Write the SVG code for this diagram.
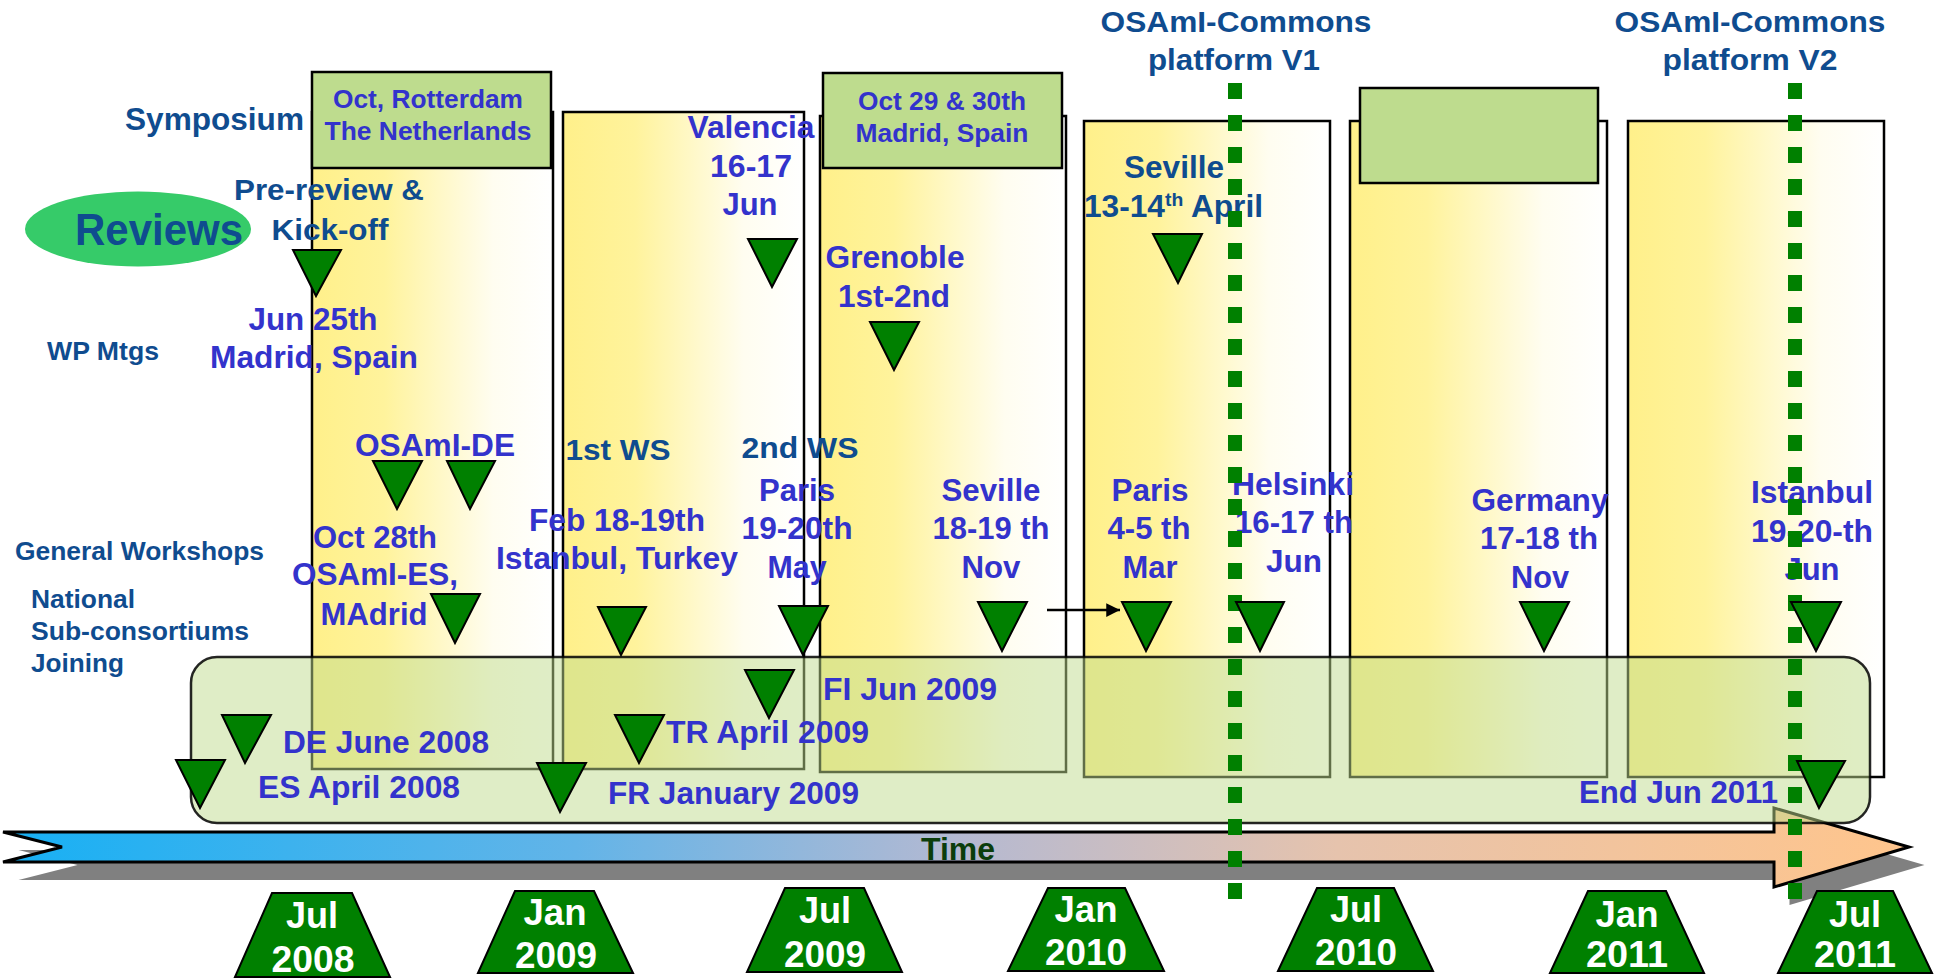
<svg xmlns="http://www.w3.org/2000/svg" width="1936" height="980" viewBox="0 0 1936 980">
<defs>
<linearGradient id="colg" x1="0" y1="0" x2="1" y2="0">
<stop offset="0" stop-color="#fff08a"/>
<stop offset="0.3" stop-color="#fff39c"/>
<stop offset="0.75" stop-color="#fffdf0"/>
<stop offset="1" stop-color="#ffffff"/>
</linearGradient>
<linearGradient id="timeg" x1="0" y1="0" x2="1" y2="0">
<stop offset="0" stop-color="#17b0f4"/>
<stop offset="0.3" stop-color="#62b4e8"/>
<stop offset="0.5" stop-color="#b4b9d2"/>
<stop offset="0.7" stop-color="#e6c3ad"/>
<stop offset="1" stop-color="#ffc58c"/>
</linearGradient>
<marker id="ah" viewBox="0 0 10 10" refX="10" refY="5" markerWidth="6" markerHeight="5.5" markerUnits="strokeWidth" orient="auto">
<path d="M0,0 L10,5 L0,10 z" fill="#000"/>
</marker>
<style>
text{font-family:"Liberation Sans",Arial,sans-serif;font-weight:bold}
.col{fill:url(#colg);stroke:#000;stroke-width:2.5}
.sym{fill:#bedc8e;stroke:#000;stroke-width:2.5}
.tri{fill:#008000;stroke:#000;stroke-width:2}
.trap{fill:#008000;stroke:#000;stroke-width:2}
.cat{fill:#0f4c8f}
.ev{fill:#3333cc}
.c{text-anchor:middle}
.d{fill:#fff;font-size:36px;text-anchor:middle}
.dot{stroke:#008000;stroke-width:14;stroke-dasharray:16 16;fill:none}
</style>
</defs>

<g id="columns">
<g id="col1"><rect class="col" x="312" y="112" width="241" height="657"/></g>
<g id="col2"><rect class="col" x="563" y="112" width="241" height="657"/></g>
<g id="col3"><rect class="col" x="820" y="116" width="246" height="656"/></g>
<g id="col4"><rect class="col" x="1084" y="121" width="246" height="656"/></g>
<g id="col5"><rect class="col" x="1350" y="121" width="257" height="656"/></g>
<g id="col6"><rect class="col" x="1628" y="121" width="256" height="656"/></g>
</g>

<g id="symposium1"><rect class="sym" x="312" y="72" width="239" height="96"/>
<text class="ev c" x="428" y="108" font-size="26" textLength="190" lengthAdjust="spacingAndGlyphs">Oct, Rotterdam</text>
<text class="ev c" x="428" y="140" font-size="26" textLength="207" lengthAdjust="spacingAndGlyphs">The Netherlands</text></g>
<g id="symposium2"><rect class="sym" x="823" y="73" width="239" height="95"/>
<text class="ev c" x="942" y="110" font-size="26" textLength="168" lengthAdjust="spacingAndGlyphs">Oct 29 &amp; 30th</text>
<text class="ev c" x="942" y="142" font-size="26" textLength="173" lengthAdjust="spacingAndGlyphs">Madrid, Spain</text></g>
<g id="symposium3"><rect class="sym" x="1360" y="88" width="238" height="95"/></g>

<g id="timearrow">
<polygon points="18.5,850 1789.5,850 1789.5,826 1924.5,865 1789.5,905 1789.5,880 18.5,880 77.5,865" fill="#808080"/>
<polygon points="3,832 1774,832 1774,808 1909,847 1774,887 1774,862 3,862 62,847" fill="url(#timeg)" stroke="#000" stroke-width="3" stroke-linejoin="miter"/>
<text x="921" y="860" font-size="31" fill="#0b3d0b" textLength="74" lengthAdjust="spacingAndGlyphs">Time</text>
</g>

<g id="joining"><rect x="191" y="657" width="1679" height="166" rx="26" ry="26" fill="#bfdc8e" fill-opacity="0.5" stroke="#000" stroke-opacity="0.85" stroke-width="2.5"/></g>

<g id="labels">
<text class="cat" x="125" y="130" font-size="31" textLength="179" lengthAdjust="spacingAndGlyphs">Symposium</text>
<g id="reviews"><ellipse cx="138" cy="229" rx="113" ry="37.5" fill="#36cb69"/>
<text class="cat" x="75" y="245" font-size="44" textLength="168" lengthAdjust="spacingAndGlyphs">Reviews</text></g>
<text class="cat" x="47" y="360" font-size="25" textLength="112" lengthAdjust="spacingAndGlyphs">WP Mtgs</text>
<text class="cat" x="15" y="560" font-size="25" textLength="249" lengthAdjust="spacingAndGlyphs">General Workshops</text>
<text class="cat" x="31" y="608" font-size="25" textLength="104" lengthAdjust="spacingAndGlyphs">National</text>
<text class="cat" x="31" y="640" font-size="25" textLength="218" lengthAdjust="spacingAndGlyphs">Sub-consortiums</text>
<text class="cat" x="31" y="672" font-size="25" textLength="93" lengthAdjust="spacingAndGlyphs">Joining</text>
</g>

<g id="events">
<text class="cat c" x="329" y="200" font-size="29" textLength="190" lengthAdjust="spacingAndGlyphs">Pre-review &amp;</text>
<text class="cat c" x="330" y="240" font-size="29" textLength="117" lengthAdjust="spacingAndGlyphs">Kick-off</text>
<text class="ev c" x="313" y="330" font-size="31" textLength="129" lengthAdjust="spacingAndGlyphs">Jun 25th</text>
<text class="ev c" x="314" y="368" font-size="31" textLength="208" lengthAdjust="spacingAndGlyphs">Madrid, Spain</text>
<text class="ev c" x="751" y="138" font-size="31" textLength="127" lengthAdjust="spacingAndGlyphs">Valencia</text>
<text class="ev c" x="751" y="177" font-size="31" textLength="82" lengthAdjust="spacingAndGlyphs">16-17</text>
<text class="ev c" x="750" y="215" font-size="31" textLength="55" lengthAdjust="spacingAndGlyphs">Jun</text>
<text class="ev c" x="895" y="268" font-size="31" textLength="139" lengthAdjust="spacingAndGlyphs">Grenoble</text>
<text class="ev c" x="894" y="307" font-size="31" textLength="112" lengthAdjust="spacingAndGlyphs">1st-2nd</text>
<text class="cat c" x="1174" y="178" font-size="31" textLength="100" lengthAdjust="spacingAndGlyphs">Seville</text>
<text class="cat" x="1084" y="217" font-size="31" textLength="179" lengthAdjust="spacingAndGlyphs">13-14<tspan font-size="19" dy="-11">th</tspan><tspan dy="11"> April</tspan></text>
<text class="cat c" x="1236" y="32" font-size="29" textLength="271" lengthAdjust="spacingAndGlyphs">OSAmI-Commons</text>
<text class="cat c" x="1234" y="70" font-size="29" textLength="172" lengthAdjust="spacingAndGlyphs">platform V1</text>
<text class="cat c" x="1750" y="32" font-size="29" textLength="271" lengthAdjust="spacingAndGlyphs">OSAmI-Commons</text>
<text class="cat c" x="1750" y="70" font-size="29" textLength="175" lengthAdjust="spacingAndGlyphs">platform V2</text>
<text class="ev c" x="435" y="456" font-size="31" textLength="160" lengthAdjust="spacingAndGlyphs">OSAmI-DE</text>
<text class="ev c" x="375" y="548" font-size="31" textLength="124" lengthAdjust="spacingAndGlyphs">Oct 28th</text>
<text class="ev c" x="375" y="585" font-size="31" textLength="166" lengthAdjust="spacingAndGlyphs">OSAmI-ES,</text>
<text class="ev c" x="374" y="625" font-size="31" textLength="107" lengthAdjust="spacingAndGlyphs">MAdrid</text>
<text class="cat c" x="618" y="460" font-size="30" textLength="105" lengthAdjust="spacingAndGlyphs">1st WS</text>
<text class="cat c" x="800" y="458" font-size="30" textLength="117" lengthAdjust="spacingAndGlyphs">2nd WS</text>
<text class="ev c" x="617" y="531" font-size="31" textLength="176" lengthAdjust="spacingAndGlyphs">Feb 18-19th</text>
<text class="ev c" x="617" y="569" font-size="31" textLength="242" lengthAdjust="spacingAndGlyphs">Istanbul, Turkey</text>
<text class="ev c" x="797" y="501" font-size="31" textLength="76" lengthAdjust="spacingAndGlyphs">Paris</text>
<text class="ev c" x="797" y="539" font-size="31" textLength="111" lengthAdjust="spacingAndGlyphs">19-20th</text>
<text class="ev c" x="797" y="578" font-size="31" textLength="59" lengthAdjust="spacingAndGlyphs">May</text>
<text class="ev c" x="991" y="501" font-size="31" textLength="99" lengthAdjust="spacingAndGlyphs">Seville</text>
<text class="ev c" x="991" y="539" font-size="31" textLength="117" lengthAdjust="spacingAndGlyphs">18-19 th</text>
<text class="ev c" x="991" y="578" font-size="31" textLength="59" lengthAdjust="spacingAndGlyphs">Nov</text>
<text class="ev c" x="1150" y="501" font-size="31" textLength="77" lengthAdjust="spacingAndGlyphs">Paris</text>
<text class="ev c" x="1149" y="539" font-size="31" textLength="83" lengthAdjust="spacingAndGlyphs">4-5 th</text>
<text class="ev c" x="1150" y="578" font-size="31" textLength="55" lengthAdjust="spacingAndGlyphs">Mar</text>
<text class="ev c" x="1293" y="495" font-size="31" textLength="122" lengthAdjust="spacingAndGlyphs">Helsinki</text>
<text class="ev c" x="1294" y="533" font-size="31" textLength="118" lengthAdjust="spacingAndGlyphs">16-17 th</text>
<text class="ev c" x="1294" y="572" font-size="31" textLength="56" lengthAdjust="spacingAndGlyphs">Jun</text>
<text class="ev c" x="1540" y="511" font-size="31" textLength="137" lengthAdjust="spacingAndGlyphs">Germany</text>
<text class="ev c" x="1539" y="549" font-size="31" textLength="118" lengthAdjust="spacingAndGlyphs">17-18 th</text>
<text class="ev c" x="1540" y="588" font-size="31" textLength="58" lengthAdjust="spacingAndGlyphs">Nov</text>
<text class="ev c" x="1812" y="503" font-size="31" textLength="122" lengthAdjust="spacingAndGlyphs">Istanbul</text>
<text class="ev c" x="1812" y="542" font-size="31" textLength="122" lengthAdjust="spacingAndGlyphs">19-20-th</text>
<text class="ev c" x="1812" y="580" font-size="31" textLength="55" lengthAdjust="spacingAndGlyphs">Jun</text>
<text class="ev" x="283" y="753" font-size="31" textLength="206" lengthAdjust="spacingAndGlyphs">DE June 2008</text>
<text class="ev" x="258" y="798" font-size="31" textLength="202" lengthAdjust="spacingAndGlyphs">ES April 2008</text>
<text class="ev" x="608" y="804" font-size="31" textLength="251" lengthAdjust="spacingAndGlyphs">FR January 2009</text>
<text class="ev" x="666" y="743" font-size="31" textLength="203" lengthAdjust="spacingAndGlyphs">TR April 2009</text>
<text class="ev" x="823" y="700" font-size="31" textLength="174" lengthAdjust="spacingAndGlyphs">FI Jun 2009</text>
<text class="ev" x="1579" y="803" font-size="31" textLength="199" lengthAdjust="spacingAndGlyphs">End Jun 2011</text>
</g>

<g id="connectors">
<line class="dot" x1="1235" y1="83" x2="1235" y2="900"/>
<line class="dot" x1="1795" y1="83" x2="1795" y2="900"/>
<line x1="1047" y1="610" x2="1120" y2="610" stroke="#000" stroke-width="2.5" marker-end="url(#ah)"/>
</g>

<g id="milestones">
<polygon class="tri" points="293,250 341,250 316,296"/>
<polygon class="tri" points="748,239 797,239 772,287"/>
<polygon class="tri" points="870,322 919,322 894,370"/>
<polygon class="tri" points="1153,234 1202,234 1178,283"/>
<polygon class="tri" points="373,461 422,461 397,509"/>
<polygon class="tri" points="447,461 495,461 470,509"/>
<polygon class="tri" points="431,594 480,594 455,643"/>
<polygon class="tri" points="598,607 646,607 621,655"/>
<polygon class="tri" points="779,606 828,606 803,655"/>
<polygon class="tri" points="978,602 1027,602 1002,651"/>
<polygon class="tri" points="1122,602 1171,602 1146,651"/>
<polygon class="tri" points="1236,602 1284,602 1260,651"/>
<polygon class="tri" points="1520,602 1569,602 1544,651"/>
<polygon class="tri" points="1791,602 1841,602 1816,651"/>
<polygon class="tri" points="222,715 271,715 245,763"/>
<polygon class="tri" points="176,760 225,760 200,808"/>
<polygon class="tri" points="537,763 586,763 560,812"/>
<polygon class="tri" points="615,715 664,715 639,763"/>
<polygon class="tri" points="745,670 794,670 769,718"/>
<polygon class="tri" points="1797,761 1845,761 1819,808"/>
</g>

<g id="dates">
<g id="d1"><polygon class="trap" points="272,893 352,893 390,977 235,977"/><text class="d" x="312" y="928" textLength="52" lengthAdjust="spacingAndGlyphs">Jul</text><text class="d" x="313" y="972" textLength="83" lengthAdjust="spacingAndGlyphs">2008</text></g>
<g id="d2"><polygon class="trap" points="515,891 594,891 633,973 478,973"/><text class="d" x="555" y="925" textLength="63" lengthAdjust="spacingAndGlyphs">Jan</text><text class="d" x="556" y="968" textLength="82" lengthAdjust="spacingAndGlyphs">2009</text></g>
<g id="d3"><polygon class="trap" points="785,888 864,888 902,972 747,972"/><text class="d" x="825" y="923" textLength="52" lengthAdjust="spacingAndGlyphs">Jul</text><text class="d" x="825" y="967" textLength="82" lengthAdjust="spacingAndGlyphs">2009</text></g>
<g id="d4"><polygon class="trap" points="1048,888 1125,888 1164,971 1008,971"/><text class="d" x="1086" y="922" textLength="63" lengthAdjust="spacingAndGlyphs">Jan</text><text class="d" x="1086" y="965" textLength="82" lengthAdjust="spacingAndGlyphs">2010</text></g>
<g id="d5"><polygon class="trap" points="1317,888 1394,888 1433,971 1278,971"/><text class="d" x="1356" y="922" textLength="52" lengthAdjust="spacingAndGlyphs">Jul</text><text class="d" x="1356" y="965" textLength="82" lengthAdjust="spacingAndGlyphs">2010</text></g>
<g id="d6"><polygon class="trap" points="1588,891 1666,891 1704,973 1550,973"/><text class="d" x="1627" y="927" textLength="63" lengthAdjust="spacingAndGlyphs">Jan</text><text class="d" x="1627" y="967" textLength="82" lengthAdjust="spacingAndGlyphs">2011</text></g>
<g id="d7"><polygon class="trap" points="1817,891 1893,891 1932,973 1778,973"/><text class="d" x="1855" y="927" textLength="52" lengthAdjust="spacingAndGlyphs">Jul</text><text class="d" x="1855" y="967" textLength="82" lengthAdjust="spacingAndGlyphs">2011</text></g>
</g>
</svg>
